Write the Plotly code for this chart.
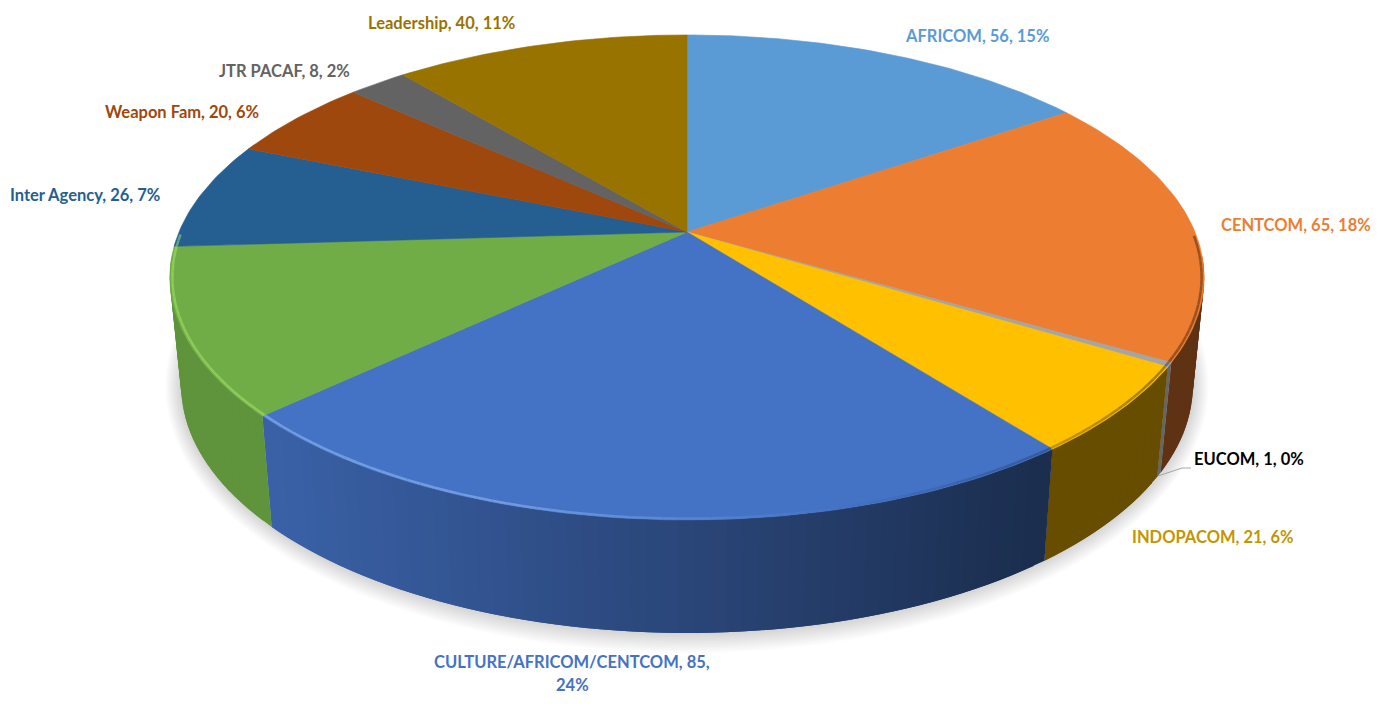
import math
import plotly.graph_objects as go

names = ["AFRICOM", "CENTCOM", "EUCOM", "INDOPACOM", "CULTURE/AFRICOM/CENTCOM",
         "FORCE PRO", "Inter Agency", "Weapon Fam", "JTR PACAF", "Leadership"]
values = [56, 65, 1, 21, 85, 40, 26, 20, 8, 40]
percents = [15, 18, 0, 6, 24, 11, 7, 6, 2, 11]
colors = ["#5b9bd5", "#ed7d31", "#a5a5a5", "#ffc000", "#4472c4",
          "#70ad47", "#255e91", "#9e480e", "#636363", "#997300"]
label_colors = ["#5b9bd5", "#ed7d31", "#000000", "#c39500", "#4472c4",
                "#70ad47", "#255e91", "#9e480e", "#636363", "#997300"]
# label anchors: left edge / centre line, in chart pixels
label_x = [903, 1219, 1192, 1130, 572, 7, 8, 103, 217, 366]
label_y = [36, 225, 459, 537, 662, 450, 195, 112, 71, 23]

W, H = 1381, 709
PAGE_PAD = 8           # the page's own body margin, absorbed by the axis ranges
CX, CY = 687, 232      # apex of the pie on the page
B, A, K = 508, 234, 0.1876   # perspective parameters of the top disc
BOT_SX, BOT_SY, BOT_DY = 0.978, 1.019, 107.5   # bottom disc from top disc
FONT = "Lato"
FS = 16.5


def top(t):
    u, v = math.sin(t), -math.cos(t)
    d = 1 - K * v
    return CX + B * u / d, CY + A * v / d


def bottom(t):
    x, y = top(t)
    return CX + (x - CX) * BOT_SX, CY + (y - CY) * BOT_SY + BOT_DY


def rgb(c):
    return [int(c[i:i + 2], 16) for i in (1, 3, 5)]


def scale(c, f):
    return "rgb(%d,%d,%d)" % tuple(max(0, min(255, round(x * f))) for x in rgb(c))


def blend(c, other, f):
    a, b = rgb(c), rgb(other)
    return "rgb(%d,%d,%d)" % tuple(round(p + (q - p) * f) for p, q in zip(a, b))


def wall_factor(x):
    if x <= 270:
        return 0.85
    if x <= 680:
        return 0.85 - (x - 270) / 410 * 0.23
    if x <= 1040:
        return 0.62 - (x - 680) / 360 * 0.22
    return 0.40


def poly(xs, ys, fill, lw=0.6):
    return go.Scatter(x=xs, y=ys, mode="lines", fill="toself", fillcolor=fill,
                      line=dict(color=fill, width=lw), hoverinfo="skip",
                      showlegend=False)


fig = go.Figure()
total = sum(values)
edges = [0.0]
for val in values:
    edges.append(edges[-1] + val / total * 2 * math.pi)

# soft drop shadow: stacked translucent copies of the bottom disc outline
full = [i / 180 * math.pi for i in range(361)]
ECY = CY + 45 * BOT_SY + BOT_DY
for k in range(1, 15):
    xs, ys = [], []
    for t in full:
        x, y = bottom(t)
        xs.append(CX + (x - CX) * (1 + k * 1.15 / 505))
        ys.append(ECY + (y - ECY) * (1 + k * 1.7 / 290))
    fig.add_trace(go.Scatter(x=xs, y=ys, mode="lines", fill="toself",
                             fillcolor="rgba(0,0,0,0.012)", line=dict(width=0),
                             hoverinfo="skip", showlegend=False))

# outer walls: each quad overlaps the next so no seams show
for i, c in enumerate(colors):
    a0, a1 = edges[i], edges[i + 1]
    n = max(2, math.ceil((a1 - a0) / math.radians(1.5)))
    step = (a1 - a0) / n
    for j in range(n):
        t0 = a0 + step * j
        t1 = t0 + step
        if -math.cos((t0 + t1) / 2) < 0.1:
            continue
        t2 = t1 + step if j < n - 1 else t1
        ts = [t0 + (t2 - t0) * m / 4 for m in range(5)]
        upper = [top(t) for t in ts]
        lower = [bottom(t) for t in reversed(ts)]
        f = wall_factor((top(t0)[0] + top(t1)[0]) / 2)
        col = scale(c, 0.62 if names[i] == "EUCOM" else f)
        fig.add_trace(go.Scatter(
            x=[p[0] for p in upper + lower] + [upper[0][0]],
            y=[p[1] for p in upper + lower] + [upper[0][1]],
            mode="lines", fill="toself", fillcolor=col, line=dict(width=0),
            hoverinfo="skip", showlegend=False))

# top faces
for i, c in enumerate(colors):
    a0, a1 = edges[i], edges[i + 1]
    n = max(2, math.ceil((a1 - a0) / math.radians(1)))
    pts = [top(a0 + (a1 - a0) * j / n) for j in range(n + 1)]
    fig.add_trace(poly([CX] + [p[0] for p in pts] + [CX],
                       [CY] + [p[1] for p in pts] + [CY], c))

# bevel along the front rim: light on the left, dark on the right
for i, c in enumerate(colors):
    a0, a1 = edges[i], edges[i + 1]
    n = max(2, math.ceil((a1 - a0) / math.radians(1.5)))
    for j in range(n):
        t0 = a0 + (a1 - a0) * j / n
        t1 = a0 + (a1 - a0) * (j + 1) / n
        tm = (t0 + t1) / 2
        if -math.cos(tm) < 0.02:
            continue
        u = math.sin(tm)
        if u < 0.25:
            col = blend(c, "#a8d0ff" if names[i].startswith("CULT") else "#b0f070",
                        min(0.45, (0.25 - u) * 0.8))
        else:
            col = blend(c, "#000000", min(0.35, (u - 0.25) * 0.6))
        p0, p1 = top(t0), top(t1)
        k = 0.995
        fig.add_trace(go.Scatter(
            x=[CX + (p0[0] - CX) * k, CX + (p1[0] - CX) * k],
            y=[CY + (p0[1] - CY) * k, CY + (p1[1] - CY) * k],
            mode="lines", line=dict(color=col, width=2.5),
            hoverinfo="skip", showlegend=False))

# EUCOM leader line
eu = edges[2] + (edges[3] - edges[2]) / 2
bx, by = bottom(eu)
fig.add_trace(go.Scatter(x=[bx, 1182, 1191], y=[by + 1, 468, 468], mode="lines",
                         line=dict(color="#a6a6a6", width=1),
                         hoverinfo="skip", showlegend=False))

# labels
for i, nm in enumerate(names):
    txt = f"{nm}, {values[i]}, {percents[i]}%"
    font = dict(family=FONT, size=FS, color=label_colors[i], weight="bold")
    if nm.startswith("CULTURE"):
        fig.add_annotation(x=label_x[i], y=label_y[i], text=f"{nm}, {values[i]},",
                           showarrow=False, xanchor="center", yanchor="middle", font=font)
        fig.add_annotation(x=label_x[i], y=label_y[i] + 23, text=f"{percents[i]}%",
                           showarrow=False, xanchor="center", yanchor="middle", font=font)
    else:
        fig.add_annotation(x=label_x[i], y=label_y[i], text=txt, showarrow=False,
                           xanchor="left", yanchor="middle", font=font)

fig.update_layout(
    width=W, height=H, margin=dict(l=0, r=0, t=0, b=0),
    paper_bgcolor="white", plot_bgcolor="white", showlegend=False,
    xaxis=dict(range=[PAGE_PAD, W + PAGE_PAD], visible=False, fixedrange=True),
    yaxis=dict(range=[H + PAGE_PAD, PAGE_PAD], visible=False, fixedrange=True),
)
fig.write_html("out.html", config=dict(displayModeBar=False))
